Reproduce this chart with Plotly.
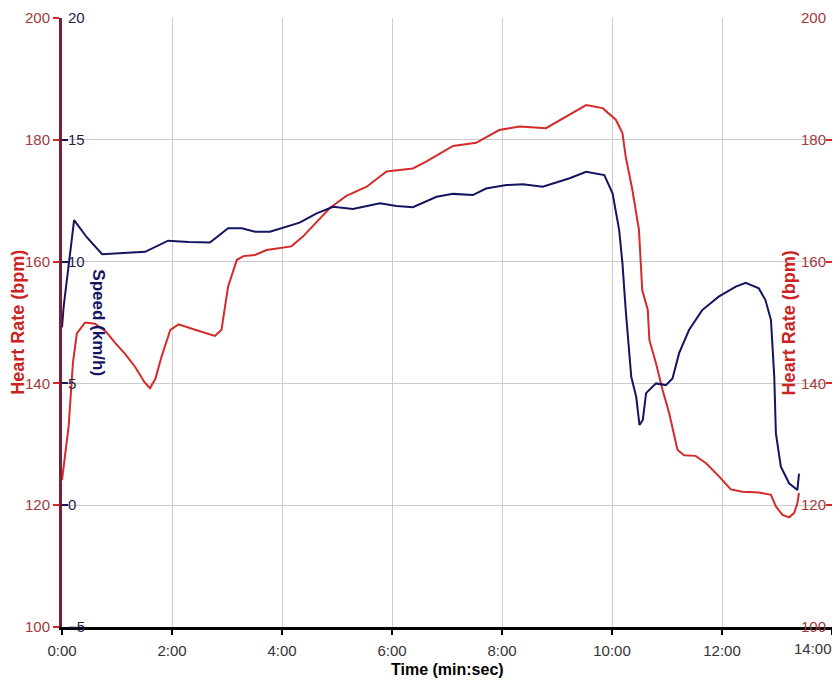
import plotly.graph_objects as go

# ---- data (time in minutes) ----
hr_time = [0.00, 0.12, 0.20, 0.27, 0.42, 0.60, 0.80, 0.97, 1.15, 1.33, 1.50, 1.60, 1.70, 1.81,
           1.97, 2.12, 2.42, 2.78, 2.90,
           3.02, 3.18, 3.30, 3.51, 3.72, 4.17, 4.38, 4.87, 5.17, 5.54, 5.90, 6.38, 6.62, 7.11,
           7.53, 7.95, 8.32, 8.80, 9.17, 9.53, 9.83, 10.07, 10.19, 10.25, 10.37, 10.49, 10.55,
           10.65, 10.68, 10.80, 10.92, 11.04, 11.19, 11.31, 11.52, 11.71, 11.95, 12.16, 12.37,
           12.67, 12.89, 12.98, 13.10, 13.22, 13.31, 13.37, 13.40]
heart_rate = [124.1, 132.9, 143.5, 148.2, 150.0, 149.8, 148.5, 146.6, 144.8, 142.7, 140.2, 139.2,
              140.8, 144.4, 148.8, 149.7, 148.8,
              147.8, 148.8, 155.9, 160.3, 160.9, 161.1, 161.9, 162.5, 164.1, 168.8, 170.8, 172.3,
              174.8, 175.3, 176.4, 179.0, 179.5, 181.6, 182.2, 181.9, 183.8, 185.7, 185.2, 183.3,
              181.1, 177.2, 171.8, 165.2, 155.3, 152.1, 147.1, 143.3, 138.9, 135.1, 129.1, 128.2,
              128.1, 126.9, 124.7, 122.6, 122.2, 122.1, 121.7, 119.8, 118.4, 118.0, 118.7, 120.3,
              122.0]

sp_time = [0.00, 0.03, 0.22, 0.45, 0.73, 1.51, 1.93, 2.30, 2.69, 3.02, 3.27, 3.51, 3.78, 4.08,
           4.32, 4.63, 4.93, 5.29, 5.78, 6.08, 6.38, 6.81, 7.11, 7.47, 7.71, 8.08, 8.38, 8.74,
           9.23, 9.53, 9.86, 10.01, 10.13, 10.19, 10.25, 10.35, 10.44, 10.50, 10.56, 10.62,
           10.80, 10.98, 11.10, 11.22, 11.40, 11.64, 11.94, 12.25, 12.43, 12.67, 12.79, 12.89,
           12.95, 12.98, 13.07, 13.22, 13.37, 13.40]
speed = [7.3, 8.15, 11.7, 11.0, 10.3, 10.4, 10.86, 10.8, 10.78, 11.37, 11.37, 11.23, 11.23,
         11.43, 11.6, 11.98, 12.25, 12.16, 12.39, 12.28, 12.23, 12.66, 12.78, 12.73, 13.0, 13.14,
         13.18, 13.07, 13.42, 13.69, 13.55, 12.8, 11.3, 9.93, 8.0, 5.27, 4.45, 3.29, 3.5, 4.6,
         5.0, 4.93, 5.2, 6.24, 7.19, 8.01, 8.56, 8.97, 9.13, 8.9, 8.42, 7.6, 5.28, 2.95, 1.58,
         0.9, 0.62, 1.3]

x_tickvals = [0, 2, 4, 6, 8, 10, 12, 14]
x_ticktext = ["0:00", "2:00", "4:00", "6:00", "8:00", "10:00", "12:00", ""]
last_x_label = "14:00"
hr_ticks = [100, 120, 140, 160, 180, 200]
speed_ticks = [-5, 0, 5, 10, 15, 20]

HR_RED = "#d42a2a"
NAVY = "#141460"
FONT = "Liberation Sans, Arial, sans-serif"

fig = go.Figure()
fig.add_trace(go.Scatter(x=hr_time, y=heart_rate, mode="lines", yaxis="y",
                         line=dict(color=HR_RED, width=2), hoverinfo="skip"))
fig.add_trace(go.Scatter(x=sp_time, y=speed, mode="lines", yaxis="y2",
                         line=dict(color=NAVY, width=2), hoverinfo="skip"))
fig.add_trace(go.Scatter(x=[hr_time[0]], y=[heart_rate[0]], mode="markers", yaxis="y3",
                         marker=dict(opacity=0), hoverinfo="skip"))

# page body has an 8px margin: the figure starts at (8, 8) in the window
fig.update_layout(
    template="none",
    width=832, height=676,
    margin=dict(l=54, r=8, t=10, b=57),
    paper_bgcolor="white", plot_bgcolor="white",
    showlegend=False,
    font=dict(family=FONT),
    xaxis=dict(range=[0, 14], tickvals=x_tickvals, ticktext=x_ticktext, automargin=False,
               showgrid=True, gridcolor="#cccccc", gridwidth=1,
               showline=True, linecolor="black", linewidth=3,
               ticks="outside", ticklen=5, tickwidth=2, tickcolor="black",
               tickfont=dict(size=15, color="#333333"), ticklabelstandoff=3,
               zeroline=False),
    yaxis=dict(range=[100, 200], tickvals=hr_ticks, side="left", automargin=False,
               showgrid=True, gridcolor="#cccccc", gridwidth=1,
               showline=True, linecolor="#7d1f33", linewidth=3,
               ticks="outside", ticklen=6, tickwidth=2, tickcolor=HR_RED,
               tickfont=dict(size=15, color="#a23a3a"), zeroline=False),
    yaxis2=dict(range=[-5, 20], tickvals=speed_ticks, overlaying="y", side="left",
                anchor="x", automargin=False, showgrid=False, showline=False, zeroline=False,
                ticks="inside", ticklen=6, tickwidth=2, tickcolor=NAVY,
                ticklabelposition="inside", ticklabeloverflow="allow",
                tickfont=dict(size=15, color="#22224a")),
    yaxis3=dict(range=[100, 200], tickvals=hr_ticks, overlaying="y", side="right",
                anchor="x", automargin=False, showgrid=False, zeroline=False,
                showline=True, linecolor=HR_RED, linewidth=2,
                ticks="inside", ticklen=6, tickwidth=2, tickcolor=HR_RED,
                ticklabelposition="inside", ticklabeloverflow="allow",
                tickfont=dict(size=15, color="#a23a3a")),
)

fig.add_annotation(text="<b>Heart Rate (bpm)</b>", textangle=-90, xref="paper", yref="paper",
                   x=-0.058, y=0.5, xanchor="center", yanchor="middle", showarrow=False,
                   font=dict(size=18, color="#cc2222", family=FONT))
fig.add_annotation(text="<b>Heart Rate (bpm)</b>", textangle=-90, xref="paper", yref="paper",
                   x=0.944, y=0.5, xanchor="center", yanchor="middle", showarrow=False,
                   font=dict(size=18, color="#cc2222", family=FONT))
fig.add_annotation(text="<b>Speed (km/h)</b>", textangle=90, xref="paper", yref="paper",
                   x=0.047, y=0.50, xanchor="center", yanchor="middle", showarrow=False,
                   font=dict(size=17, color=NAVY, family=FONT))
fig.add_annotation(text="<b>Time (min:sec)</b>", xref="paper", yref="paper",
                   x=0.5, y=-0.0706, xanchor="center", yanchor="middle", showarrow=False,
                   font=dict(size=16, color="black", family=FONT))
fig.add_annotation(text=last_x_label, xref="x", yref="paper", x=14, y=-0.0361,
                   xanchor="right", yanchor="middle", xshift=2, showarrow=False,
                   font=dict(size=15, color="#333333", family=FONT))

fig.write_html("out.html")
